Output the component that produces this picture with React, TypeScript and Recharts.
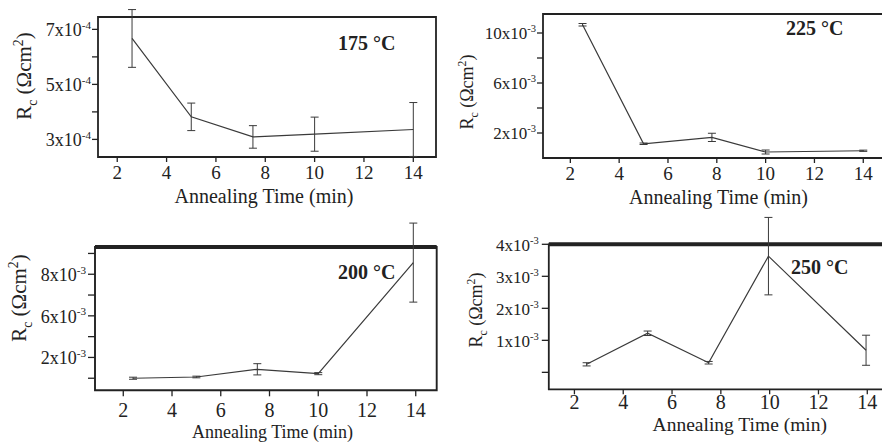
import { ErrorBar, Label, Line, LineChart, ReferenceArea, ReferenceLine, XAxis, YAxis } from "recharts";

const FONT = "'Liberation Serif', 'DejaVu Serif', 'Times New Roman', serif";
const INK = "#222";

// annealing time in min, Rc in units of the axis exponent (x10^-4 or x10^-3 Ωcm²)
const times175 = [2.6, 5, 7.5, 10, 14];
const rc175 = [6.67, 3.82, 3.09, 3.19, 3.36];
const err175 = [1.05, 0.5, 0.41, 0.62, 0.98];

const times225 = [2.5, 5, 7.8, 10, 14];
const rc225 = [10.66, 1.14, 1.65, 0.48, 0.58];
const err225 = [0.1, 0.06, 0.33, 0.16, 0.05];

const times200 = [2.4, 5, 7.5, 10, 13.9];
const rc200 = [3.0, 3.06, 3.43, 3.22, 8.56];
const err200 = [0.05, 0.04, 0.27, 0.05, 1.9];

const times250 = [2.5, 5, 7.5, 9.95, 13.95];
const rc250 = [0.25, 1.22, 0.3, 3.63, 0.69];
const err250 = [0.05, 0.07, 0.04, 1.21, 0.47];

const xTicks = [2, 4, 6, 8, 10, 12, 14];

const yTicks175 = [3, 4, 5, 6, 7];
const yLabels175 = ["3", "", "5", "", "7"];
const yTicks225 = [2, 4, 6, 8, 10];
const yLabels225 = ["2", "", "6", "", "10"];
// labels as printed on the original axis
const yTicks200 = [3, 4, 5, 6, 7, 8, 9];
const yLabels200 = ["", "2", "", "6", "", "8", ""];
const yTicks250 = [0, 1, 2, 3, 4];
const yLabels250 = ["", "1", "2", "3", "4"];

const panels = [
  {
    id: "p175", title: "175 °C", times: times175, values: rc175, errors: err175,
    yTicks: yTicks175, yLabels: yLabels175, exp: "-4",
    box: { left: 0, top: 0, width: 441, height: 221 },
    plotLeft: 98, plotRight: 436, frameTop: 17, frameBottom: 157,
    xDomain: [1.22, 14.92], yFrame: [2.36, 7.45],
    xTick: { size: 5, margin: 4, font: 19 }, yTick: { size: 6, margin: 1, font: 18 },
    yLabel: { x: 31, y: 76, font: 21 }, xLabel: { x: 264, y: 203, font: 20 },
    titlePos: { x: 338, y: 50 }, frameW: 1.8, topW: 1.8,
  },
  {
    id: "p225", title: "225 °C", times: times225, values: rc225, errors: err225,
    yTicks: yTicks225, yLabels: yLabels225, exp: "-3",
    box: { left: 441, top: 0, width: 460, height: 221 },
    plotLeft: 102, plotRight: 454, frameTop: 14, frameBottom: 158,
    xDomain: [0.88, 15.3], yFrame: [0, 11.52],
    xTick: { size: 5, margin: 4, font: 19 }, yTick: { size: 6, margin: 1, font: 17 },
    yLabel: { x: 32, y: 92, font: 18 }, xLabel: { x: 277.5, y: 204, font: 20 },
    titlePos: { x: 345, y: 35 }, frameW: 1.8, topW: 1.8,
  },
  {
    id: "p200", title: "200 °C", times: times200, values: rc200, errors: err200,
    yTicks: yTicks200, yLabels: yLabels200, exp: "-3",
    box: { left: 0, top: 215, width: 441, height: 227 },
    plotLeft: 95, plotRight: 436.7, frameTop: 32, frameBottom: 175.3,
    xDomain: [0.84, 14.86], yFrame: [2.42, 9.31],
    xTick: { size: 6, margin: 6, font: 20 }, yTick: { size: 7, margin: 2, font: 18 },
    yLabel: { x: 26, y: 83, font: 21 }, xLabel: { x: 272.5, y: 222.5, font: 18 },
    titlePos: { x: 338, y: 64.3 }, frameW: 1.9, topW: 4,
  },
  {
    id: "p250", title: "250 °C", times: times250, values: rc250, errors: err250,
    yTicks: yTicks250, yLabels: yLabels250, exp: "-3",
    box: { left: 441, top: 205, width: 460, height: 237 },
    plotLeft: 107.8, plotRight: 458, frameTop: 39.3, frameBottom: 184.3,
    xDomain: [0.95, 15.3], yFrame: [-0.53, 4.0],
    xTick: { size: 5, margin: 0, font: 20 }, yTick: { size: 7, margin: 3, font: 17 },
    yLabel: { x: 41, y: 105, font: 18 }, xLabel: { x: 298.8, y: 226, font: 19.5 },
    titlePos: { x: 350, y: 69.3 }, frameW: 1.8, topW: 4,
  },
];

type PanelCfg = (typeof panels)[number];

const YTick = (props: any, p: PanelCfg) => {
  const { x, y, payload } = props;
  const lab = p.yLabels[p.yTicks.indexOf(payload.value)];
  const fs = p.yTick.font;
  if (!lab) return <g />;
  return (
    <text x={x} y={y} dy={fs * 0.38} textAnchor="end" fontFamily={FONT} fontSize={fs} fill={INK}>
      {lab}x10
      <tspan dy={-fs * 0.42} fontSize={fs * 0.62}>
        {p.exp}
      </tspan>
    </text>
  );
};

const XTick = (props: any, p: PanelCfg) => {
  const { x, y, payload } = props;
  return (
    <text x={x} y={y} dy="0.71em" textAnchor="middle" fontFamily={FONT} fontSize={p.xTick.font} fill={INK}>
      {payload.value}
    </text>
  );
};

const Panel = ({ p }: { p: PanelCfg }) => {
  const data = p.times.map((t, i) => ({ t, rc: p.values[i], err: p.errors[i] }));
  const [lo, hi] = p.yFrame;
  const [x0, x1] = p.xDomain;
  // error bars may poke above the frame, so the y range runs up to the highest one
  const top = Math.max(hi, ...data.map((d) => d.rc + d.err));
  const pxPerUnit = (p.frameBottom - p.frameTop) / (hi - lo);
  const plotTop = p.frameBottom - (top - lo) * pxPerUnit;

  const ly = p.yLabel;
  const yLabel = () => (
    <text
      x={ly.x}
      y={ly.y}
      transform={`rotate(-90 ${ly.x} ${ly.y})`}
      textAnchor="middle"
      fontFamily={FONT}
      fontSize={ly.font}
      fill={INK}
    >
      R
      <tspan dy={ly.font * 0.28} fontSize={ly.font * 0.65}>c</tspan>
      <tspan dy={-ly.font * 0.28}> (Ωcm</tspan>
      <tspan dy={-ly.font * 0.4} fontSize={ly.font * 0.65}>2</tspan>
      <tspan dy={ly.font * 0.4}>)</tspan>
    </text>
  );

  const xLabel = () => (
    <g>
      <text x={p.xLabel.x} y={p.xLabel.y} textAnchor="middle" fontFamily={FONT} fontSize={p.xLabel.font} fill={INK}>
        Annealing Time (min)
      </text>
      <text x={p.titlePos.x} y={p.titlePos.y} fontFamily={FONT} fontSize={20} fontWeight="bold" fill={INK}>
        {p.title}
      </text>
    </g>
  );

  return (
    <div style={{ position: "absolute", left: p.box.left, top: p.box.top }}>
      <LineChart
        width={p.box.width}
        height={p.box.height}
        data={data}
        margin={{ top: plotTop, right: p.box.width - p.plotRight, bottom: 0, left: 0 }}
      >
        <XAxis
          type="number"
          dataKey="t"
          domain={p.xDomain}
          ticks={xTicks}
          interval={0}
          axisLine={false}
          tickLine={{ stroke: INK, strokeWidth: 1.3 }}
          tickSize={p.xTick.size}
          tickMargin={p.xTick.margin}
          tick={(props: any) => XTick(props, p)}
          height={p.box.height - p.frameBottom}
          label={<Label content={xLabel} />}
        />
        <YAxis
          type="number"
          domain={[lo, top]}
          ticks={p.yTicks}
          interval={0}
          width={p.plotLeft}
          axisLine={false}
          tickLine={{ stroke: INK, strokeWidth: 1.3 }}
          tickSize={p.yTick.size}
          tickMargin={p.yTick.margin}
          tick={(props: any) => YTick(props, p)}
          label={<Label content={yLabel} />}
        />
        <ReferenceArea
          x1={x0}
          x2={x1}
          y1={lo}
          y2={hi}
          fill="none"
          fillOpacity={0}
          stroke={INK}
          strokeWidth={p.frameW}
          ifOverflow="visible"
        />
        <ReferenceLine y={hi} stroke={INK} strokeWidth={p.topW} ifOverflow="visible" />
        <Line
          type="linear"
          dataKey="rc"
          stroke="#3a3a3a"
          strokeWidth={1.2}
          dot={false}
          activeDot={false}
          isAnimationActive={false}
        >
          <ErrorBar dataKey="err" direction="y" width={4} stroke="#3a3a3a" strokeWidth={1} isAnimationActive={false} />
        </Line>
      </LineChart>
    </div>
  );
}

export default function App() {
  return (
    <div
      style={{
        position: "absolute",
        left: 0,
        top: 0,
        width: 882,
        height: 442,
        overflow: "hidden",
        background: "#fff",
      }}
    >
      {panels.map((p) => (
        <Panel key={p.id} p={p} />
      ))}
    </div>
  );
}
